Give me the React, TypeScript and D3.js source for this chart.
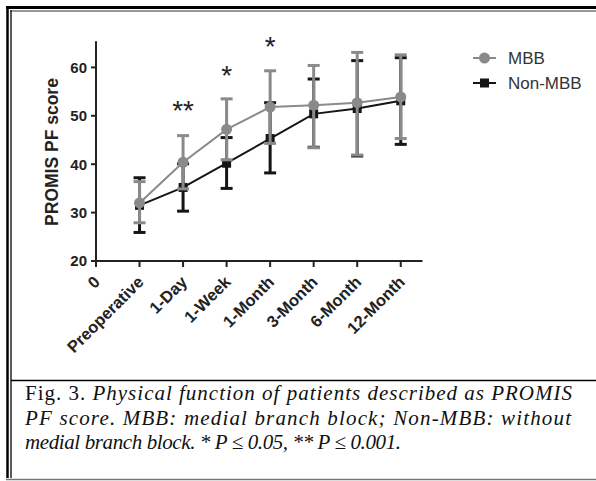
import * as d3 from 'd3';

const categories = ['Preoperative', '1-Day', '1-Week', '1-Month', '3-Month', '6-Month', '12-Month'];
const mbbMean = [32.0, 40.4, 47.2, 51.8, 52.2, 52.7, 53.9];
const mbbUpper = [36.4, 45.9, 53.5, 59.3, 60.4, 63.1, 62.6];
const mbbLower = [27.9, 34.9, 40.9, 44.3, 43.4, 41.9, 45.3];
const nonMean = [31.5, 35.2, 40.2, 45.3, 50.4, 51.5, 53.1];
const nonUpper = [37.2, 40.1, 45.5, 52.7, 57.6, 61.4, 62.0];
const nonLower = [25.9, 30.3, 35.0, 38.2, 43.5, 41.7, 44.1];
const yTicks = [20, 30, 40, 50, 60];
const stars = [{ idx: 1, text: '**', y: 51.6 }, { idx: 2, text: '*', y: 59.0 }, { idx: 3, text: '*', y: 64.9 }];

const GREY = '#8a8a8a';
const BLACK = '#151515';
const SANS = '"Liberation Sans", Arial, sans-serif';
const SERIF = '"Liberation Serif", "Times New Roman", serif';

const App = () => {
  const x = d3.scaleLinear().domain([0, 7.5]).range([96, 422.5]);
  const y = d3.scaleLinear().domain([20, 65]).range([261, 43.2]);
  const line = d3.line<number>().x((d, i) => x(i + 1)).y((d) => y(d));

  const series = [
    { name: 'Non-MBB', mean: nonMean, up: nonUpper, lo: nonLower, color: BLACK, sq: true },
    { name: 'MBB', mean: mbbMean, up: mbbUpper, lo: mbbLower, color: GREY, sq: false },
  ];

  return (
    <svg width={596} height={481} style={{ position: 'absolute', left: 0, top: 0 }}>
      <rect width={596} height={481} fill="#fff" />
      {/* frame */}
      <line x1={6} x2={596} y1={7.5} y2={7.5} stroke="#000" strokeWidth={3} />
      <line x1={10} x2={596} y1={11} y2={11} stroke="#777" strokeWidth={1.5} />
      <line x1={7.5} x2={7.5} y1={6} y2={478} stroke="#000" strokeWidth={2.5} />
      <line x1={11} x2={11} y1={10} y2={478} stroke="#222" strokeWidth={1.5} />
      <line x1={11} x2={596} y1={380.5} y2={380.5} stroke="#000" strokeWidth={1.5} />
      <line x1={6} x2={596} y1={479.5} y2={479.5} stroke="#777" strokeWidth={1.5} />

      {/* axes */}
      <line x1={x(0)} x2={x(0)} y1={y(65.4)} y2={y(20)} stroke="#222" strokeWidth={2} />
      <line x1={x(0)} x2={x(7.5)} y1={y(20)} y2={y(20)} stroke="#222" strokeWidth={2} />
      {yTicks.map((t) => (
        <g key={t}>
          <line x1={x(0) - 5} x2={x(0)} y1={y(t)} y2={y(t)} stroke="#222" strokeWidth={2} />
          <text x={x(0) - 9} y={y(t)} dy="0.36em" textAnchor="end" fontFamily={SANS} fontWeight="bold" fontSize={15} fill="#222">{t}</text>
        </g>
      ))}
      {['0', ...categories].map((c, i) => (
        <g key={c}>
          <line x1={x(i)} x2={x(i)} y1={y(20)} y2={y(20) + 6} stroke="#222" strokeWidth={2} />
          <text transform={`translate(${x(i) + 1},${y(20) + 18}) rotate(-45)`} textAnchor="end" dy="0.35em" fontFamily={SANS} fontWeight="bold" fontSize={16.5} fill="#222">{c}</text>
        </g>
      ))}
      <text transform={`translate(58,152) rotate(-90)`} textAnchor="middle" fontFamily={SANS} fontWeight="bold" fontSize={17.5} fill="#222">PROMIS PF score</text>

      {/* series */}
      {series.map((s) => (
        <g key={s.name}>
          <path d={line(s.mean) || ''} fill="none" stroke={s.color} strokeWidth={2} />
          {s.mean.map((m, i) => (
            <g key={i}>
              <line x1={x(i + 1)} x2={x(i + 1)} y1={y(s.lo[i])} y2={y(s.up[i])} stroke={s.color} strokeWidth={3} />
              <line x1={x(i + 1) - 6} x2={x(i + 1) + 6} y1={y(s.up[i])} y2={y(s.up[i])} stroke={s.color} strokeWidth={3} />
              <line x1={x(i + 1) - 6} x2={x(i + 1) + 6} y1={y(s.lo[i])} y2={y(s.lo[i])} stroke={s.color} strokeWidth={3} />
              {s.sq ? (
                <rect x={x(i + 1) - 4.5} y={y(m) - 4.5} width={9} height={9} fill={s.color} />
              ) : (
                <circle cx={x(i + 1)} cy={y(m)} r={5.5} fill={s.color} />
              )}
            </g>
          ))}
        </g>
      ))}

      {stars.map((s) => (
        <text key={s.idx} x={x(s.idx + 1)} y={y(s.y)} dy="0.44em" textAnchor="middle" fontFamily={SANS} fontSize={28} fill="#222">{s.text}</text>
      ))}

      {/* legend */}
      <g>
        <line x1={473} x2={496} y1={58} y2={58} stroke={GREY} strokeWidth={2} />
        <circle cx={484.5} cy={58} r={5.5} fill={GREY} />
        <text x={508} y={58} dy="0.36em" fontFamily={SANS} fontSize={17} fill="#333">MBB</text>
        <line x1={473} x2={496} y1={83} y2={83} stroke={BLACK} strokeWidth={2} />
        <rect x={480} y={78.5} width={9} height={9} fill={BLACK} />
        <text x={508} y={83} dy="0.36em" fontFamily={SANS} fontSize={17} fill="#333">Non-MBB</text>
      </g>

      {/* caption */}
      <g fontFamily={SERIF} fontSize={21} fill="#111">
        <text x={25} y={400} textLength={547} lengthAdjust="spacing">
          <tspan>Fig. 3. </tspan>
          <tspan fontStyle="italic">Physical function of patients described as PROMIS</tspan>
        </text>
        <text x={25} y={425} fontStyle="italic" textLength={546} lengthAdjust="spacing">PF score. MBB: medial branch block; Non-MBB: without</text>
        <text x={25} y={449} fontStyle="italic" textLength={376} lengthAdjust="spacing">medial branch block. * P ≤ 0.05, ** P ≤ 0.001.</text>
      </g>
    </svg>
  );
};

export default App;
